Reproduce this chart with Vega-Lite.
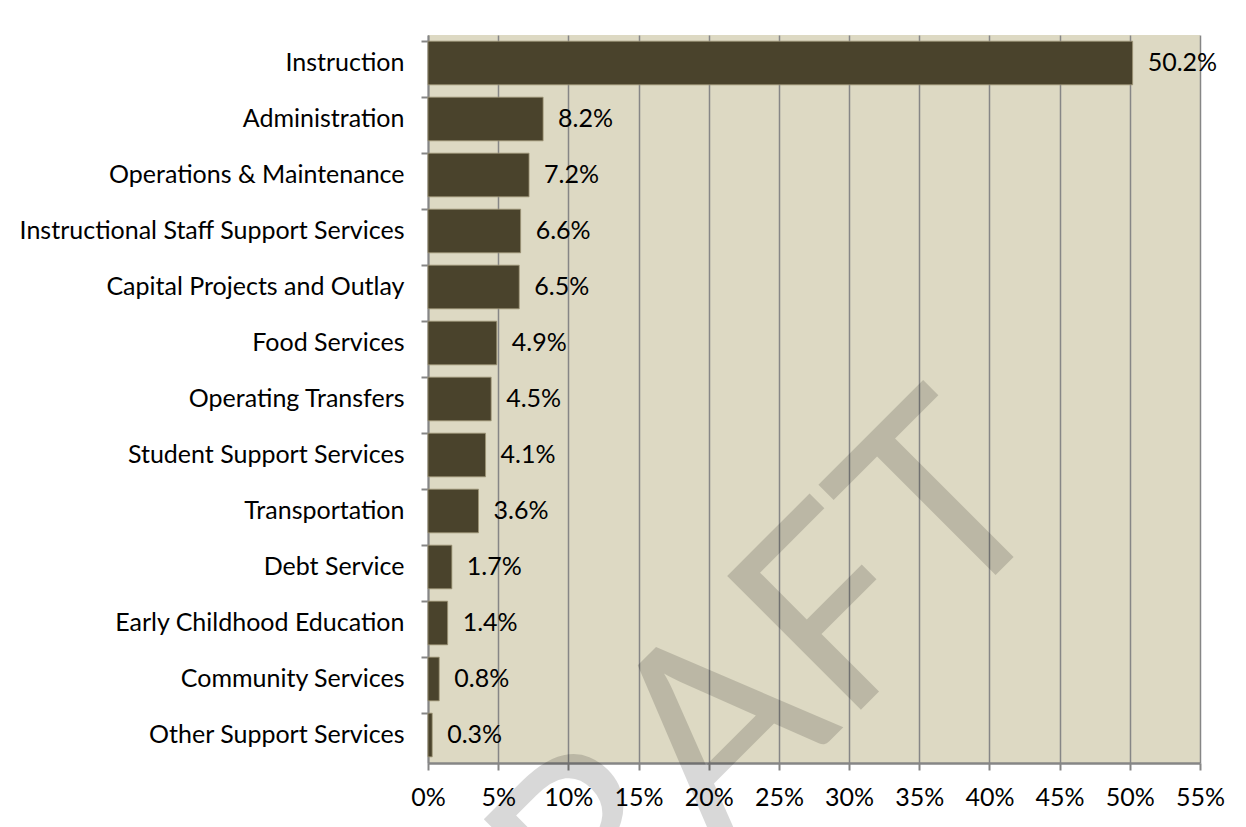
{
  "$schema": "https://vega.github.io/schema/vega-lite/v6.json",
  "autosize": {"type": "none"},
  "padding": {"left": 428, "top": 35, "right": 46, "bottom": 64},
  "width": 772,
  "height": 728,
  "background": "#ffffff",
  "config": {
    "view": {"fill": "#DDD9C3", "stroke": null},
    "font": "Lato"
  },
  "layer": [
    {
      "data": {
        "values": [
          {"category": "Instruction", "share": 0.502},
          {"category": "Administration", "share": 0.082},
          {"category": "Operations & Maintenance", "share": 0.072},
          {"category": "Instructional Staff Support Services", "share": 0.066},
          {"category": "Capital Projects and Outlay", "share": 0.065},
          {"category": "Food Services", "share": 0.049},
          {"category": "Operating Transfers", "share": 0.045},
          {"category": "Student Support Services", "share": 0.041},
          {"category": "Transportation", "share": 0.036},
          {"category": "Debt Service", "share": 0.017},
          {"category": "Early Childhood Education", "share": 0.014},
          {"category": "Community Services", "share": 0.008},
          {"category": "Other Support Services", "share": 0.003}
        ]
      },
      "encoding": {
        "y": {
          "field": "category",
          "type": "nominal",
          "scale": {
            "domain": ["Instruction", "Administration", "Operations & Maintenance", "Instructional Staff Support Services", "Capital Projects and Outlay", "Food Services", "Operating Transfers", "Student Support Services", "Transportation", "Debt Service", "Early Childhood Education", "Community Services", "Other Support Services"],
            "paddingInner": 0.22,
            "paddingOuter": 0.11
          },
          "axis": {
            "title": null,
            "bandPosition": 0,
            "grid": false,
            "domainColor": "#868686",
            "domainWidth": 2,
            "tickColor": "#868686",
            "tickWidth": 2,
            "tickSize": 7,
            "labelPadding": 17,
            "labelLimit": 600,
            "labelFontSize": 25,
            "labelColor": "#000000",
            "labelFont": "Lato"
          }
        },
        "x": {
          "field": "share",
          "type": "quantitative",
          "scale": {"domain": [0, 0.55], "nice": false, "zero": true},
          "axis": {
            "title": null,
            "values": [0, 0.05, 0.1, 0.15, 0.2, 0.25, 0.3, 0.35, 0.4, 0.45, 0.5, 0.55],
            "format": ".0%",
            "grid": true,
            "gridColor": "#868686",
            "gridWidth": 1.5,
            "domainColor": "#868686",
            "domainWidth": 2.5,
            "tickColor": "#868686",
            "tickWidth": 2,
            "tickSize": 7,
            "labelPadding": 15,
            "labelFontSize": 25,
            "labelColor": "#000000",
            "labelFont": "Lato",
            "labelFlush": false
          }
        }
      },
      "layer": [
        {
          "mark": {"type": "bar", "fill": "#4A432C", "stroke": "#9E9677", "strokeWidth": 0.8}
        },
        {
          "mark": {"type": "text", "align": "left", "baseline": "middle", "dx": 15, "fontSize": 25, "font": "Lato", "fill": "#000000"},
          "encoding": {
            "text": {"field": "share", "type": "quantitative", "format": ".1%"}
          }
        }
      ]
    },
    {
      "data": {"values": [{"mark": "DRAFT"}]},
      "mark": {"type": "text", "align": "right", "baseline": "alphabetic", "angle": -45, "fontSize": 264, "font": "Lato", "fill": "#000000", "opacity": 0.15},
      "encoding": {
        "x": {"datum": 0.45, "type": "quantitative"},
        "y": {"datum": "Transportation", "type": "nominal"},
        "text": {"field": "mark", "type": "nominal"}
      }
    }
  ]
}
